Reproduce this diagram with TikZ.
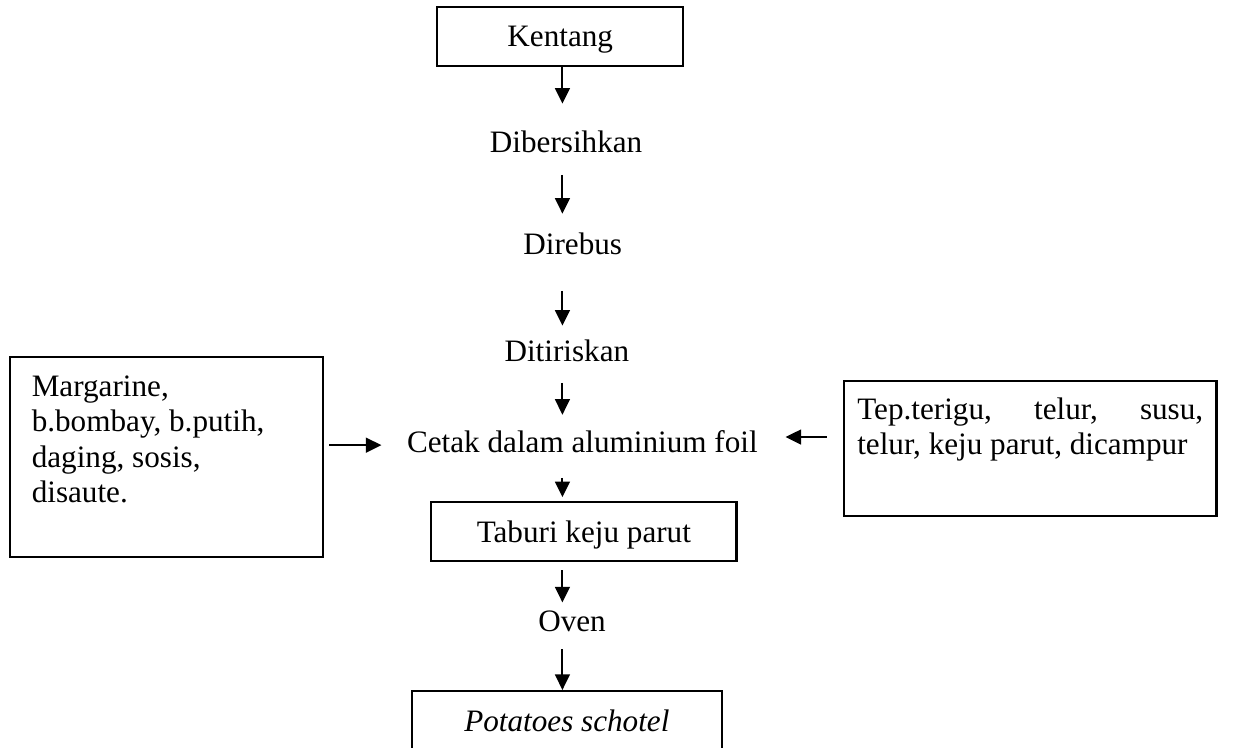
\documentclass[tikz,border=0pt]{standalone}
\usepackage{fontspec}
\setmainfont{Liberation Serif}
\usepackage{tikz}
\usetikzlibrary{arrows.meta}

\begin{document}
\begin{tikzpicture}[
  font=\fontsize{12}{13.6}\selectfont,
  stage/.style={inner sep=0pt, text height=8pt, text depth=2.5pt, anchor=base},
  stagebox/.style={rectangle, draw, thick, inner sep=0pt, minimum height=0.80cm, text height=10pt, text depth=1.7pt},
  ingr/.style={rectangle, draw, thick},
  arr/.style={-{Triangle[length=0.21cm,width=0.2cm]}, thick}
]
  \useasboundingbox (0,0) rectangle (16.90,-10.11);
  \clip (0,0) rectangle (16.90,-10.11);
  \coordinate (col) at (7.61,0);

  % main line
  \node[stagebox, minimum width=3.33cm] (kentang) at (7.58,-0.49) {Kentang};
  \node[stage] (bersih) at (7.66,-2.07) {Dibersihkan};
  \node[stage] (rebus)  at (7.75,-3.45) {Direbus};
  \node[stage] (tiris)  at (7.67,-4.885) {Ditiriskan};
  \node[stage] (cetak)  at (7.88,-6.12) {Cetak dalam aluminium foil};
  \node[stagebox, minimum width=4.13cm] (tabur) at (7.90,-7.19) {Taburi keju parut};
  \node[stage] (oven)   at (7.74,-8.55) {Oven};
  \node[stagebox, minimum width=4.19cm, font=\fontsize{12}{13.6}\selectfont\itshape] (hasil) at (7.67,-9.75) {Potatoes schotel};

  % side inputs
  \node[ingr, inner xsep=0.30cm, inner ysep=0.26cm] (bumbu) at (2.25,-6.18)
    {\parbox[t][2.19cm][t]{3.64cm}{Margarine,\\ b.bombay, b.putih,\\ daging, sosis,\\ disaute.}};
  \node[ingr, inner xsep=0.18cm, inner ysep=0.23cm] (adonan) at (13.94,-6.07)
    {\parbox[t][1.37cm][t]{4.68cm}{Tep.terigu,\hfill telur,\hfill susu,\\ telur, keju parut, dicampur}};
  \coordinate (masuk) at ([yshift=0.11cm]cetak.east);

  \draw[arr, shorten >=0.38cm] (kentang.south -| col) -- (bersih.north -| col);
  \draw[arr, shorten <=0.20cm, shorten >=0.27cm] (bersih.south -| col) -- (rebus.north -| col);
  \draw[arr, shorten <=0.39cm, shorten >=0.19cm] (rebus.south -| col) -- (tiris.north -| col);
  \draw[arr, shorten <=0.20cm, shorten >=0.22cm] (tiris.south -| col) -- (cetak.north -| col);
  \draw[arr, shorten <=0.25cm, shorten >=0.05cm] (cetak.south -| col) -- (tabur.north -| col);
  \draw[arr, shorten <=0.11cm, shorten >=0.11cm] (tabur.south -| col) -- (oven.north -| col);
  \draw[arr, shorten <=0.14cm] (oven.south -| col) -- (hasil.north -| col);
  \draw[arr, shorten <=0.07cm, shorten >=0.34cm] (cetak.west -| bumbu.east) -- (cetak.west);
  \draw[arr, shorten <=0.22cm, shorten >=0.37cm] (masuk -| adonan.west) -- (masuk);
\end{tikzpicture}
\end{document}
